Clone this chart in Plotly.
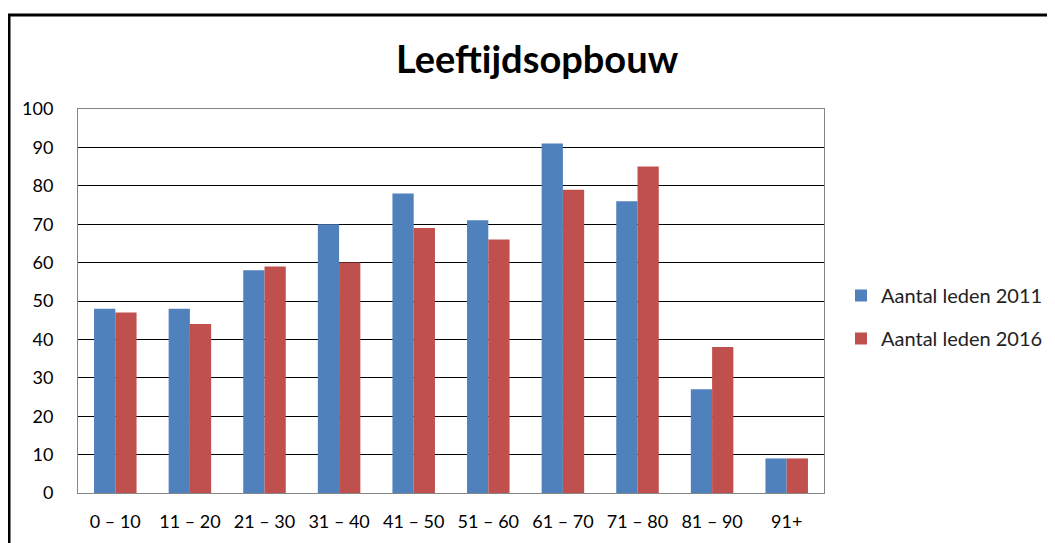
import plotly.graph_objects as go

categories = ["0 – 10", "11 – 20", "21 – 30", "31 – 40", "41 – 50", "51 – 60", "61 – 70", "71 – 80", "81 – 90", "91+"]
leden_2011 = [48, 48, 58, 70, 78, 71, 91, 76, 27, 9]
leden_2016 = [47, 44, 59, 60, 69, 66, 79, 85, 38, 9]

OFF = 8  # page body margin
W, H = 1047, 535
# target page coords of plot area: left 78, right 824, top 109, bottom 493
L = 78 - OFF
R = W - (824 - OFF)
T = 109 - OFF
B = H - (493 - OFF)
pw, ph = W - L - R, H - T - B

def px(x):  # page x -> paper
    return (x - OFF - L) / pw

def py(y):  # page y -> paper
    return (H - B - (y - OFF)) / ph

font = "Lato, Carlito, Calibri, sans-serif"

fig = go.Figure()
fig.add_trace(go.Bar(x=categories, y=leden_2011, name="Aantal leden 2011", legendgroup="a",
                     marker=dict(color="#4F81BD", line=dict(width=0))))
fig.add_trace(go.Bar(x=categories, y=leden_2016, name="Aantal leden 2016", legendgroup="b",
                     marker=dict(color="#C0504D", line=dict(width=0))))

fig.update_layout(
    width=W, height=H,
    margin=dict(l=L, r=R, t=T, b=B, autoexpand=False),
    paper_bgcolor="white", plot_bgcolor="white",
    barmode="group", bargap=0.43, bargroupgap=0,
    font=dict(family=font, size=17, color="black"),
    title=dict(text="<b>Leeftijdsopbouw</b>", x=(537 - OFF) / W, xanchor="center",
               y=1 - (60 - OFF) / H, yanchor="middle",
               font=dict(family=font, size=38, color="black")),
    legend=dict(xref="container", yref="container",
                x=(841 - OFF) / W, y=1 - (317 - OFF) / H, xanchor="left", yanchor="middle",
                font=dict(family=font, size=20, color="#222222"), tracegroupgap=14,
                itemwidth=30, bgcolor="rgba(0,0,0,0)"),
    showlegend=True,
)
fig.update_xaxes(showline=True, linecolor="#868686", linewidth=1, mirror=True,
                 showgrid=False, ticks="", tickfont=dict(size=18), ticklabelstandoff=12)
fig.update_yaxes(range=[0, 100], dtick=10, showline=True, linecolor="#868686", linewidth=1,
                 mirror=True, showgrid=True, gridcolor="#000000", gridwidth=1,
                 zeroline=False, ticks="", tickfont=dict(size=18), ticklabelstandoff=20)

fig.add_shape(type="rect", xref="paper", yref="paper",
              x0=px(9), x1=px(1075), y0=py(570), y1=py(15),
              line=dict(color="black", width=3), fillcolor="rgba(0,0,0,0)", layer="above")

fig.write_html("out.html")
